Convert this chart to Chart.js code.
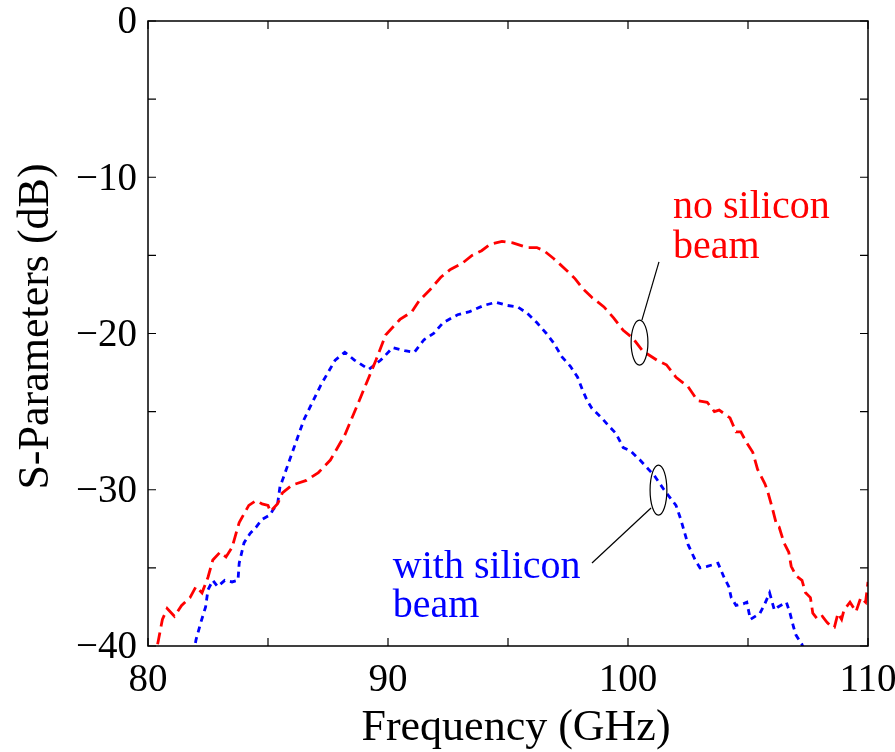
<!DOCTYPE html>
<html>
<head>
<meta charset="utf-8">
<script src="https://cdn.jsdelivr.net/npm/chart.js@4.4.0/dist/chart.umd.min.js"></script>
<style>
  html, body { margin: 0; padding: 0; background: #fff; }
  #wrap { width: 895px; height: 752px; }
</style>
</head>
<body>
<div id="wrap"><canvas id="chart" width="895" height="752"></canvas></div>
<script>
// no silicon beam (red, long dashes)
const redFreq = [80.2, 80.4, 80.6, 80.8, 81.1, 81.4, 81.75, 82.0, 82.25, 82.5, 82.7, 83.0, 83.25, 83.5, 83.8, 84.2, 84.5, 84.75, 85.0, 85.1, 85.4, 85.6, 86.0, 86.6, 87.1, 87.6, 88.2, 88.8, 89.5, 89.9, 90.5, 91.0, 91.3, 91.75, 92.2, 92.6, 93.1, 93.5, 93.9, 94.25, 94.75, 95.2, 95.8, 96.2, 96.5, 96.9, 97.4, 97.8, 98.1, 98.5, 99.0, 99.4, 99.8, 100.2, 100.6, 101.2, 101.6, 102.0, 102.5, 102.9, 103.3, 103.6, 103.8, 104.25, 104.5, 104.7, 104.95, 105.2, 105.4, 105.7, 105.8, 106.0, 106.2, 106.3, 106.5, 106.7, 106.8, 107.0, 107.25, 107.4, 107.6, 107.7, 107.9, 108.1, 108.3, 108.5, 108.6, 108.75, 108.9, 109.0, 109.25, 109.5, 109.7, 109.9, 110.0];
const redDb = [-41, -39.9, -38.3, -37.6, -38.1, -37.4, -36.9, -36.2, -36.6, -35.6, -34.5, -34.0, -34.3, -33.7, -32.1, -31.0, -30.7, -30.9, -31.0, -31.4, -30.9, -30.2, -29.7, -29.4, -28.9, -28.1, -26.5, -24.3, -21.7, -20.1, -19.1, -18.6, -17.9, -17.2, -16.4, -15.9, -15.5, -15.0, -14.7, -14.3, -14.1, -14.2, -14.5, -14.5, -14.7, -15.2, -15.9, -16.5, -17.1, -17.7, -18.3, -19.0, -19.8, -20.3, -21.1, -21.7, -22.0, -22.8, -23.4, -24.3, -24.4, -25.0, -24.9, -25.4, -26.3, -26.3, -27.0, -27.6, -28.7, -29.6, -30.0, -31.1, -32.3, -32.4, -33.4, -34.0, -34.9, -35.5, -35.8, -36.6, -36.9, -37.9, -38.3, -38.1, -38.5, -38.8, -38.8, -37.9, -38.3, -37.7, -37.2, -37.8, -36.9, -37.2, -35.9];

// with silicon beam (blue, short dashes)
const blueFreq = [81.9, 82.0, 82.2, 82.4, 82.5, 82.7, 82.9, 83.2, 83.5, 83.75, 83.8, 84.0, 84.25, 84.5, 84.75, 85.1, 85.2, 85.4, 85.5, 85.6, 85.9, 86.5, 87.2, 87.8, 88.2, 88.6, 89.2, 89.7, 90.2, 90.7, 91.1, 91.5, 91.9, 92.3, 92.9, 93.4, 94.0, 94.5, 94.95, 95.4, 95.8, 96.2, 96.6, 96.9, 97.25, 97.6, 97.9, 98.1, 98.3, 98.5, 98.9, 99.25, 99.5, 99.8, 100.1, 100.5, 101.1, 101.5, 102.0, 102.2, 102.5, 102.8, 103.0, 103.3, 103.75, 104.0, 104.2, 104.3, 104.5, 104.8, 104.95, 105.1, 105.3, 105.5, 105.7, 105.9, 106.1, 106.25, 106.6, 106.75, 106.9, 107.0, 107.25, 107.4];
const blueDb = [-40.5, -39.6, -38.5, -37.5, -36.4, -35.8, -36.2, -35.8, -35.9, -35.8, -34.7, -33.4, -32.8, -32.4, -31.9, -31.6, -31.3, -30.9, -29.8, -29.4, -28.1, -25.5, -23.3, -21.7, -21.2, -21.7, -22.3, -21.7, -20.9, -21.1, -21.2, -20.4, -20.0, -19.3, -18.8, -18.6, -18.2, -18.0, -18.2, -18.3, -18.7, -19.3, -20.0, -20.6, -21.5, -22.1, -22.8, -23.6, -24.3, -24.8, -25.4, -26.0, -26.4, -27.3, -27.5, -28.1, -29.1, -30.0, -31.0, -31.9, -33.5, -34.5, -35.0, -34.9, -34.7, -35.6, -36.2, -36.9, -37.4, -37.3, -37.2, -38.3, -38.1, -37.9, -37.3, -36.6, -37.7, -37.5, -37.2, -37.9, -38.8, -39.3, -39.9, -40.6];

const xTicks = [80, 90, 100, 110];
const yTicks = [0, -10, -20, -30, -40];

const FONT = '"Liberation Serif", "DejaVu Serif", serif';

function toPoints(xs, ys) {
    return xs.map((x, i) => ({ x: x, y: ys[i] }));
}

// axes box, inward ticks, labels, titles and the two callouts
const decorations = {
    id: 'decorations',
    afterDraw(chart) {
        const ctx = chart.ctx;
        const xs = chart.scales.x;
        const ys = chart.scales.y;
        const a = chart.chartArea;
        const tickLen = 8;

        ctx.save();
        ctx.strokeStyle = '#000';
        ctx.lineWidth = 1.5;
        ctx.strokeRect(a.left, a.top, a.right - a.left, a.bottom - a.top);

        ctx.lineWidth = 1.2;
        ctx.beginPath();
        for (let v = 80; v <= 110; v += 5) {
            const px = xs.getPixelForValue(v);
            ctx.moveTo(px, a.bottom); ctx.lineTo(px, a.bottom - tickLen);
            ctx.moveTo(px, a.top); ctx.lineTo(px, a.top + tickLen);
        }
        for (let v = -40; v <= 0; v += 5) {
            const py = ys.getPixelForValue(v);
            ctx.moveTo(a.left, py); ctx.lineTo(a.left + tickLen, py);
            ctx.moveTo(a.right, py); ctx.lineTo(a.right - tickLen, py);
        }
        ctx.stroke();

        ctx.fillStyle = '#000';
        ctx.font = '39px ' + FONT;
        ctx.textAlign = 'center';
        ctx.textBaseline = 'middle';
        xTicks.forEach(v => ctx.fillText(String(v), xs.getPixelForValue(v), a.bottom + 35));
        ctx.textAlign = 'right';
        yTicks.forEach(v => {
            const label = v < 0 ? '\u2212' + Math.abs(v) : String(v);
            ctx.fillText(label, a.left - 11, ys.getPixelForValue(v) + 2);
        });

        ctx.font = '44px ' + FONT;
        ctx.textAlign = 'center';
        ctx.fillText('Frequency (GHz)', (a.left + a.right) / 2 + 8, a.bottom + 82);
        ctx.save();
        ctx.translate(36, (a.top + a.bottom) / 2 - 7);
        ctx.rotate(-Math.PI / 2);
        ctx.fillText('S-Parameters (dB)', 0, 0);
        ctx.restore();

        // callouts
        function ellipse(f, db, rf, rdb) {
            const cx = xs.getPixelForValue(f), cy = ys.getPixelForValue(db);
            const rx = xs.getPixelForValue(f + rf) - cx;
            const ry = cy - ys.getPixelForValue(db + rdb);
            ctx.beginPath();
            ctx.ellipse(cx, cy, rx, ry, 0, 0, Math.PI * 2);
            ctx.stroke();
        }
        function leader(f1, d1, f2, d2) {
            ctx.beginPath();
            ctx.moveTo(xs.getPixelForValue(f1), ys.getPixelForValue(d1));
            ctx.lineTo(xs.getPixelForValue(f2), ys.getPixelForValue(d2));
            ctx.stroke();
        }
        ctx.strokeStyle = '#000';
        ctx.lineWidth = 1.2;
        ellipse(100.48, -20.58, 0.35, 1.44);
        leader(100.58, -19.14, 101.29, -15.42);
        ellipse(101.27, -30.02, 0.35, 1.6);
        leader(100.96, -31.17, 98.5, -34.69);

        ctx.font = '40px ' + FONT;
        ctx.textAlign = 'left';
        ctx.textBaseline = 'alphabetic';
        ctx.fillStyle = '#ff0000';
        ctx.fillText('no silicon', xs.getPixelForValue(101.875), ys.getPixelForValue(-12.6));
        ctx.fillText('beam', xs.getPixelForValue(101.875), ys.getPixelForValue(-15.17));
        ctx.fillStyle = '#0000ff';
        ctx.fillText('with silicon', xs.getPixelForValue(90.2), ys.getPixelForValue(-35.65));
        ctx.fillText('beam', xs.getPixelForValue(90.2), ys.getPixelForValue(-38.14));
        ctx.restore();
    }
};

const ctx = document.getElementById('chart').getContext('2d');
const chart = new Chart(ctx, {
    type: 'line',
    data: {
        datasets: [
            {
                label: 'no silicon beam',
                data: toPoints(redFreq, redDb),
                borderColor: '#ff0000',
                borderWidth: 2.8,
                borderDash: [12, 6],
                pointRadius: 0,
                tension: 0,
                fill: false
            },
            {
                label: 'with silicon beam',
                data: toPoints(blueFreq, blueDb),
                borderColor: '#0000ff',
                borderWidth: 2.8,
                borderDash: [6, 5],
                pointRadius: 0,
                tension: 0,
                fill: false
            }
        ]
    },
    options: {
        responsive: false,
        animation: false,
        layout: { padding: { top: 21, right: 27, left: 0, bottom: 0 } },
        plugins: { legend: { display: false }, tooltip: { enabled: false } },
        scales: {
            x: {
                type: 'linear', min: 80, max: 110,
                ticks: { display: false },
                grid: { display: false },
                border: { display: false },
                afterFit(scale) { scale.height = 106; }
            },
            y: {
                type: 'linear', min: -40, max: 0,
                ticks: { display: false },
                grid: { display: false },
                border: { display: false },
                afterFit(scale) { scale.width = 148; }
            }
        }
    },
    plugins: [decorations]
});
</script>
</body>
</html>
